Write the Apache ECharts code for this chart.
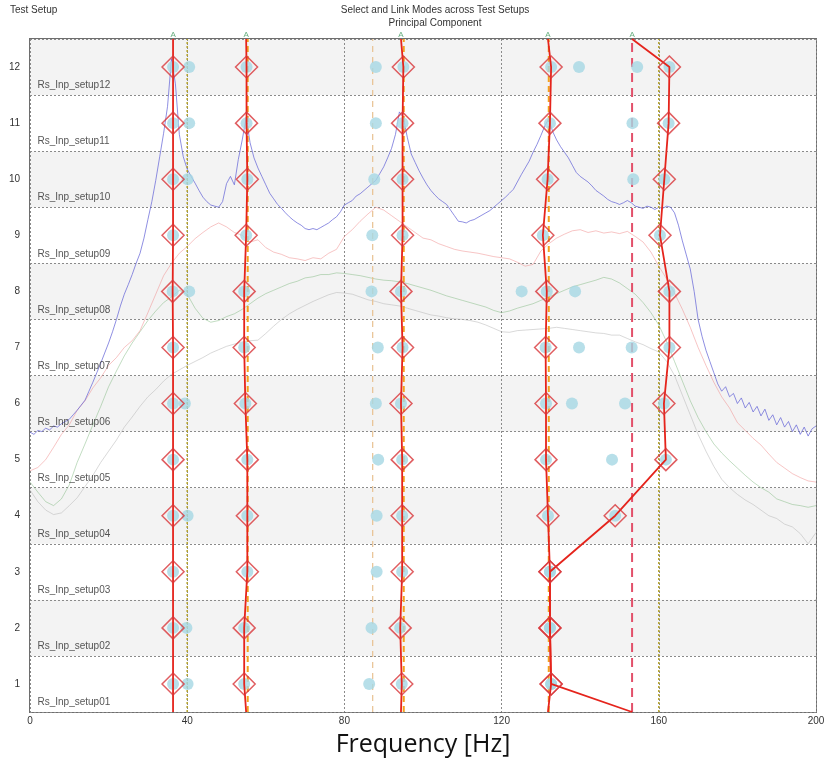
<!DOCTYPE html>
<html>
<head>
<meta charset="utf-8">
<script src="https://cdn.jsdelivr.net/npm/echarts@6/dist/echarts.min.js"></script>
<style>
  html, body { margin: 0; padding: 0; background: #ffffff; }
  #chart { width: 828px; height: 758px; }
</style>
</head>
<body>
<div id="chart"></div>
<script>
// ---- Test setups (rows, bottom to top) ----
const rowTicks = ['1', '2', '3', '4', '5', '6', '7', '8', '9', '10', '11', '12'];
const setupNames = [
  'Rs_Inp_setup01', 'Rs_Inp_setup02', 'Rs_Inp_setup03', 'Rs_Inp_setup04',
  'Rs_Inp_setup05', 'Rs_Inp_setup06', 'Rs_Inp_setup07', 'Rs_Inp_setup08',
  'Rs_Inp_setup09', 'Rs_Inp_setup10', 'Rs_Inp_setup11', 'Rs_Inp_setup12'
];
const freqTicks = [0, 40, 80, 120, 160, 200];

// ---- Linked modes: mean frequency [Hz] and the selected pole per setup (setup01 .. setup12) ----
const modeMeans = [36.4, 55.0, 94.4, 131.8, 153.2];
const mode1Poles = [36.4, 36.4, 36.4, 36.4, 36.4, 36.4, 36.4, 36.3, 36.4, 36.4, 36.4, 36.4];
const mode2Poles = [54.5, 54.5, 55.3, 55.3, 55.3, 54.8, 54.5, 54.5, 55.0, 55.3, 55.1, 55.1];
const mode3Poles = [94.6, 94.2, 94.7, 94.7, 94.7, 94.4, 94.8, 94.4, 94.8, 94.8, 94.8, 95.0];
const mode4Poles = [132.6, 132.3, 132.3, 131.8, 131.3, 131.3, 131.2, 131.5, 130.5, 131.7, 132.3, 132.6];
const mode5Poles = [132.6, 132.3, 132.3, 148.9, 161.8, 161.3, 162.7, 162.7, 160.3, 161.4, 162.5, 162.7];

// ---- Other stable poles found per setup (not linked), [Hz] ----
const otherPoles = [
  [40.1, 86.3],                      // setup01
  [39.8, 86.9],                      // setup02
  [88.2],                            // setup03
  [40.1, 88.2],                      // setup04
  [88.6, 148.1],                     // setup05
  [39.4, 88.0, 137.9, 151.4],        // setup06
  [88.5, 139.7, 153.1],              // setup07
  [40.5, 86.9, 125.1, 138.7],        // setup08
  [87.1],                            // setup09
  [40.1, 87.6, 153.5],               // setup10
  [40.5, 88.0, 153.3],               // setup11
  [40.5, 88.0, 139.7, 154.5]         // setup12
];

// ---- Reference frequency lines [Hz] ----
const orangeRefFreqs = [55.4, 95.1, 132.0];
const tanRefFreq = 87.2;
const oliveRefFreqs = [40.0, 160.0];

// ---- Principal component spectra (on the setup scale) ----
const blueStepHz = 1;
const blueSpectrum = [
  5.49, 5.45, 5.52, 5.50, 5.56, 5.53, 5.60, 5.58, 5.64, 5.68,
  5.72, 5.80, 5.88, 5.97, 6.06, 6.22, 6.38, 6.55, 6.72, 6.90,
  7.08, 7.28, 7.50, 7.74, 7.95, 8.12, 8.30, 8.50, 8.68, 8.95,
  9.28, 9.60, 9.98, 10.40, 10.82, 11.30, 12.15, 11.70, 10.80, 10.40,
  10.18, 10.05, 9.93, 9.80, 9.68, 9.60, 9.54, 9.52, 9.50, 9.60,
  9.92, 10.05, 9.90, 10.35, 10.70, 11.10, 10.65, 10.38, 10.20, 10.05,
  9.90, 9.75, 9.65, 9.55, 9.48, 9.40, 9.33, 9.27, 9.22, 9.18,
  9.12, 9.10, 9.12, 9.10, 9.14, 9.18, 9.22, 9.28, 9.33, 9.42,
  9.54, 9.58, 9.62, 9.70, 9.74, 9.80, 9.86, 9.92, 9.98, 10.10,
  10.22, 10.38, 10.55, 10.80, 11.20, 11.10, 10.75, 10.45, 10.30, 10.15,
  10.02, 9.90, 9.80, 9.72, 9.65, 9.60, 9.55, 9.45, 9.35, 9.25,
  9.24, 9.22, 9.26, 9.28, 9.32, 9.36, 9.40, 9.44, 9.50, 9.56,
  9.62, 9.68, 9.75, 9.82, 9.95, 10.08, 10.20, 10.32, 10.48, 10.62,
  10.78, 10.95, 11.08, 10.85, 10.70, 10.58, 10.48, 10.38, 10.25, 10.12,
  10.05, 10.00, 9.95, 9.88, 9.80, 9.75, 9.70, 9.64, 9.60, 9.58,
  9.55, 9.58, 9.62, 9.58, 9.52, 9.50, 9.48, 9.52, 9.50, 9.46,
  9.50, 9.48, 9.52, 9.50, 9.40, 9.18, 8.90, 8.65, 8.40, 8.00,
  7.50, 7.20, 6.95, 6.75, 6.55, 6.35, 6.22, 6.30, 6.12, 6.18,
  6.00, 6.10, 5.92, 6.02, 5.85, 5.95, 5.78, 5.90, 5.70, 5.80,
  5.62, 5.75, 5.58, 5.68, 5.50, 5.62, 5.45, 5.58, 5.42, 5.55,
  5.60
];

const pcStepHz = 2;
const redSpectrum = [
  4.80, 4.86, 5.00, 5.22, 5.45, 5.62, 5.88, 6.05, 6.28, 6.46,
  6.68, 6.82, 7.00, 7.12, 7.30, 7.62, 7.95, 8.28, 8.50, 8.68,
  8.80, 8.94, 9.05, 9.15, 9.22, 9.15, 9.05, 9.00, 8.88, 8.92,
  8.78, 8.70, 8.66, 8.60, 8.58, 8.55, 8.60, 8.58, 8.68, 8.75,
  8.98, 9.10, 9.25, 9.38, 9.50, 9.45, 9.35, 9.25, 9.15, 9.05,
  8.95, 8.92, 8.85, 8.80, 8.75, 8.72, 8.70, 8.68, 8.65, 8.62,
  8.60, 8.58, 8.52, 8.45, 8.48, 8.72, 8.85, 8.95, 9.02, 9.08,
  9.10, 9.05, 9.08, 9.04, 9.06, 9.03, 9.07, 8.98, 8.88, 8.70,
  8.45, 8.22, 7.97, 7.68, 7.36, 7.00, 6.68, 6.38, 6.12, 5.92,
  5.66, 5.52, 5.38, 5.26, 5.10, 4.95, 4.85, 4.75, 4.68, 4.62,
  4.60
];
const greenSpectrum = [
  4.60, 4.42, 4.25, 4.18, 4.30, 4.55, 4.95, 5.28, 5.62, 5.95,
  6.30, 6.58, 6.85, 7.08, 7.28, 7.48, 7.65, 7.80, 7.90, 8.02,
  7.95, 7.70, 7.52, 7.45, 7.48, 7.55, 7.60, 7.68, 7.78, 7.88,
  7.96, 8.02, 8.08, 8.14, 8.18, 8.24, 8.26, 8.30, 8.30, 8.33,
  8.32, 8.30, 8.28, 8.25, 8.22, 8.20, 8.19, 8.17, 8.14, 8.10,
  8.06, 8.02, 7.97, 7.92, 7.88, 7.84, 7.80, 7.76, 7.72, 7.66,
  7.62, 7.65, 7.70, 7.74, 7.78, 7.84, 7.90, 7.96, 8.02, 8.08,
  8.12, 8.16, 8.20, 8.25, 8.22, 8.15, 8.05, 7.95, 7.80, 7.62,
  7.40, 7.10, 6.75, 6.40, 6.05, 5.75, 5.50, 5.28, 5.12, 4.98,
  4.85, 4.72, 4.60, 4.50, 4.42, 4.30, 4.25, 4.20, 4.18, 4.15,
  4.18
];
const greySpectrum = [
  4.46, 4.25, 4.10, 4.02, 4.05, 4.18, 4.32, 4.52, 4.72, 4.95,
  5.15, 5.35, 5.58, 5.76, 5.95, 6.12, 6.25, 6.40, 6.52, 6.60,
  6.68, 6.75, 6.82, 6.90, 6.96, 7.02, 7.06, 7.10, 7.12, 7.13,
  7.25, 7.38, 7.50, 7.60, 7.68, 7.75, 7.82, 7.88, 7.94, 7.98,
  7.97, 7.95, 7.90, 7.85, 7.82, 7.78, 7.76, 7.74, 7.70, 7.66,
  7.62, 7.58, 7.56, 7.53, 7.51, 7.50, 7.48, 7.45, 7.40, 7.34,
  7.28, 7.27, 7.30, 7.31, 7.32, 7.33, 7.34, 7.36, 7.34, 7.32,
  7.30, 7.28, 7.26, 7.25, 7.22, 7.22, 7.16, 7.10, 7.05, 6.98,
  6.92, 6.75, 6.50, 6.15, 5.80, 5.45, 5.15, 4.88, 4.65, 4.50,
  4.38, 4.28, 4.20, 4.10, 4.00, 3.95, 3.85, 3.80, 3.68, 3.50,
  3.70
];

// ---- build series ----
const Y = 1; // value axis for plotting on the setup scale
const ROW_TOP = 12.5, ROW_BOTTOM = 0.5;

function spectrumSeries(values, step, color) {
  return {
    type: 'line', yAxisIndex: Y, silent: true, z: 2,
    showSymbol: false, symbol: 'none',
    lineStyle: { color: color, width: 1 },
    data: values.map((v, i) => [i * step, v])
  };
}
function vLine(freq, style, z) {
  return {
    type: 'line', yAxisIndex: Y, silent: true, z: z, symbol: 'none',
    lineStyle: style,
    data: [[freq, ROW_BOTTOM], [freq, ROW_TOP]]
  };
}

const modePoles = [mode1Poles, mode2Poles, mode3Poles, mode4Poles, mode5Poles];

const series = [];
series.push(spectrumSeries(greySpectrum, pcStepHz, 'rgba(185,185,185,0.55)'));
series.push(spectrumSeries(greenSpectrum, pcStepHz, 'rgba(120,180,120,0.45)'));
series.push(spectrumSeries(redSpectrum, pcStepHz, 'rgba(240,140,140,0.5)'));
series.push(spectrumSeries(blueSpectrum, blueStepHz, 'rgba(100,100,215,0.72)'));

oliveRefFreqs.forEach(f => series.push(vLine(f, { color: '#b4a22a', width: 1.5, type: [2, 2] }, 3)));
series.push(vLine(tanRefFreq, { color: '#e8c090', width: 1.2, type: [6, 5] }, 3));
orangeRefFreqs.forEach(f => series.push(vLine(f, { color: '#f3a21e', width: 2, type: [6, 4] }, 3)));
series.push(vLine(modeMeans[4], { color: '#e2506a', width: 2, type: [9, 6] }, 3));

// all stable poles (light blue dots)
const poleDots = [];
rowTicks.forEach((_, r) => {
  otherPoles[r].forEach(f => poleDots.push([f, r + 1]));
  modePoles.forEach(m => poleDots.push([m[r], r + 1]));
});
series.push({
  type: 'scatter', yAxisIndex: Y, silent: true, z: 4,
  symbol: 'circle', symbolSize: 12,
  itemStyle: { color: '#a5d7e3' },
  data: poleDots
});

// linked mode chains
modePoles.forEach((m, k) => {
  const pts = [[modeMeans[k], ROW_TOP]];
  for (let r = m.length - 1; r >= 0; r--) pts.push([m[r], r + 1]);
  pts.push([modeMeans[k], ROW_BOTTOM]);
  series.push({
    type: 'line', yAxisIndex: Y, silent: true, z: 5, symbol: 'none',
    lineStyle: { color: '#e5241c', width: 1.8 },
    data: pts
  });
});

// selected poles (diamonds)
const diamonds = [];
modePoles.forEach(m => m.forEach((f, r) => diamonds.push([f, r + 1])));
series.push({
  type: 'scatter', yAxisIndex: Y, silent: true, z: 6,
  symbol: 'diamond', symbolSize: 22,
  itemStyle: { color: 'rgba(0,0,0,0)', borderColor: '#d8363a', borderWidth: 1.5 },
  data: diamonds
});

// mode markers above the plot
series.push({
  type: 'scatter', yAxisIndex: Y, silent: true, z: 7,
  symbolSize: 0,
  label: { show: true, position: 'top', distance: 0, formatter: 'A', color: '#3e9a5e', fontSize: 8, fontFamily: 'Liberation Sans' },
  data: modeMeans.map(f => [f, ROW_TOP])
});

// setup names inside each row
series.push({
  type: 'scatter', yAxisIndex: Y, silent: true, z: 7,
  symbolSize: 0,
  label: {
    show: true, position: 'right', distance: 0,
    formatter: p => setupNames[p.dataIndex],
    color: '#2a2a2a', fontSize: 10, fontFamily: 'Liberation Sans'
  },
  data: setupNames.map((_, r) => [1.9, r + 1 - 0.33])
});

const chart = echarts.init(document.getElementById('chart'), null, { renderer: 'canvas' });
chart.setOption({
  animation: false,
  backgroundColor: '#ffffff',
  title: [
    {
      text: 'Select and Link Modes across Test Setups',
      subtext: 'Principal Component',
      left: 430, top: 0, textAlign: 'center', itemGap: 3,
      textStyle: { fontSize: 10, fontWeight: 'normal', color: '#333', fontFamily: 'Liberation Sans' },
      subtextStyle: { fontSize: 10, color: '#333', fontFamily: 'Liberation Sans' }
    },
    {
      text: 'Test Setup', left: 5, top: 0,
      textStyle: { fontSize: 10, fontWeight: 'normal', color: '#333', fontFamily: 'Liberation Sans' }
    }
  ],
  grid: {
    left: 30, right: 12, top: 39, bottom: 46,
    containLabel: false, outerBoundsMode: 'none',
    show: true, borderColor: '#6e6e6e', borderWidth: 2, backgroundColor: 'transparent'
  },
  xAxis: {
    type: 'value', min: freqTicks[0], max: freqTicks[freqTicks.length - 1], interval: 40,
    axisLine: { show: false }, axisTick: { show: false },
    axisLabel: { fontSize: 10, color: '#333', margin: 4, fontFamily: 'Liberation Sans' },
    splitLine: { show: true, lineStyle: { color: '#8a8a8a', type: [2, 2], width: 1 } },
    name: 'Frequency [Hz]', nameLocation: 'middle', nameGap: 20,
    nameTextStyle: { fontSize: 25, color: '#111', fontFamily: 'Open Sans', verticalAlign: 'top' }
  },
  yAxis: [
    {
      type: 'category', data: rowTicks, boundaryGap: true,
      axisLine: { show: false }, axisTick: { show: false },
      axisLabel: { interval: 0, fontSize: 10, color: '#333', margin: 10, fontFamily: 'Liberation Sans' },
      splitLine: { show: true, interval: 0, lineStyle: { color: '#8a8a8a', type: [2, 2], width: 1 } },
      splitArea: { show: true, interval: 0, areaStyle: { color: ['#ffffff', '#f3f3f3'] } }
    },
    { type: 'value', min: ROW_BOTTOM, max: ROW_TOP, show: false }
  ],
  series: series
});
</script>
</body>
</html>
